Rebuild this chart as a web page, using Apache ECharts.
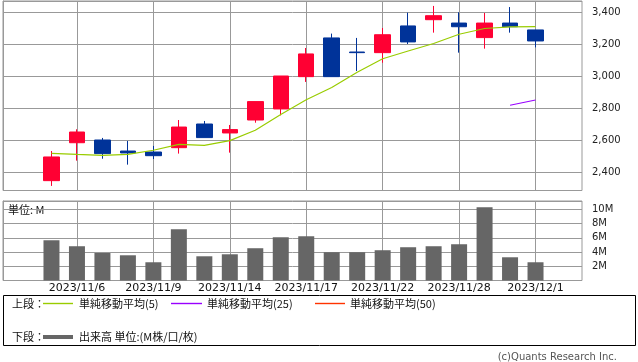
<!DOCTYPE html>
<html>
<head>
<meta charset="utf-8">
<script src="https://cdn.jsdelivr.net/npm/echarts@6/dist/echarts.min.js"></script>
<style>html,body{margin:0;padding:0;background:#fff;}#c{width:638px;height:362px;}</style>
</head>
<body>
<div id="c"></div>
<script>
const dates = ['2023/11/2','2023/11/6','2023/11/7','2023/11/8','2023/11/9','2023/11/10','2023/11/13','2023/11/14','2023/11/15','2023/11/16','2023/11/17','2023/11/20','2023/11/21','2023/11/22','2023/11/24','2023/11/27','2023/11/28','2023/11/29','2023/11/30','2023/12/1'];
const openP  = [2348,2585,2602,2533,2527,2554,2702,2646,2727,2796,2998,3240,3152,3148,3315,3354,3333,3242,3333,3290];
const closeP = [2496,2652,2517,2521,2504,2683,2617,2667,2842,3002,3140,2998,3148,3260,3215,3379,3310,3333,3310,3221];
const lowP   = [2315,2473,2485,2448,2483,2517,2617,2523,2710,2756,2965,2998,3033,3085,3202,3273,3148,3173,3273,3181];
const highP  = [2533,2669,2615,2596,2565,2727,2721,2696,2842,3002,3177,3267,3240,3302,3398,3440,3400,3396,3433,3290];
const ma5    = [2519,2512,2506,2512,2538,2575,2568,2598,2663,2762,2854,2930,3026,3110,3158,3205,3263,3299,3309,3311];
const ma25   = [null,null,null,null,null,null,null,null,null,null,null,null,null,null,null,null,null,null,2819,2852];
const ma50   = [null,null,null,null,null,null,null,null,null,null,null,null,null,null,null,null,null,null,null,null];
const volume = [5.65,4.81,3.87,3.54,2.56,7.19,3.40,3.68,4.53,6.07,6.21,3.97,3.97,4.25,4.67,4.81,5.09,10.28,3.26,2.56];
const tickLabels = ['2023/11/6','2023/11/9','2023/11/14','2023/11/17','2023/11/22','2023/11/28','2023/12/1'];

const RED = '#ff0033', BLUE = '#003399', C_MA5 = '#99cc00', C_MA25 = '#9900ff', C_MA50 = '#ff3300';
const GRID = '#999999';
const cats = [''].concat(dates, ['']);
const pad = a => [null].concat(a, [null]);
const candle = [['-','-','-','-']].concat(dates.map((d,i)=>[openP[i],closeP[i],lowP[i],highP[i]]), [['-','-','-','-']]);
const showTick = (idx, val) => tickLabels.indexOf(val) >= 0;

const chart = echarts.init(document.getElementById('c'), null, {renderer:'canvas'});
const numFont = 'DejaVu Sans';
const jpFont = '"Noto Sans CJK JP"';

const frameY = (min, max, fmt) => ({
  type:'value', position:'right', min:min, max:max, splitNumber:5,
  axisLine:{show:true, lineStyle:{color:GRID}},
  axisTick:{show:true, length:4, lineStyle:{color:GRID}},
  splitLine:{show:true, lineStyle:{color:GRID, width:1}},
  axisLabel:{show:true, margin:10, showMinLabel:false, showMaxLabel:false, color:'#222', fontFamily:numFont, fontSize:10, formatter:fmt}
});
const hiddenY = (min,max) => ({type:'value', min:min, max:max, show:false, splitLine:{show:false}});
const txt = (x, y, s) => ({type:'text', x:x, y:y, z:10, style:{text:s, font:'11px ' + jpFont, fill:'#111', textVerticalAlign:'middle'}});
const swatch = (x1, x2, y, w, c) => ({type:'polyline', z:10, shape:{points:[[x1, y], [x2, y]]}, style:{stroke:c, lineWidth:w, fill:null}});

chart.setOption({
  animation:false,
  backgroundColor:'#fff',
  grid:[
    {left:3, top:1, width:579, height:189.5, show:true, borderColor:GRID, borderWidth:1, backgroundColor:'transparent'},
    {left:26, top:1, width:535, height:189.5},
    {left:3, top:201, width:579, height:79.5, show:true, borderColor:GRID, borderWidth:1, backgroundColor:'transparent'},
    {left:26, top:201, width:535, height:79.5}
  ],
  xAxis:[
    {type:'value', gridIndex:0, min:0, max:1, show:false},
    {type:'category', gridIndex:1, data:cats, boundaryGap:false,
      axisLine:{show:false}, axisTick:{show:false}, axisLabel:{show:false},
      splitLine:{show:true, interval:showTick, lineStyle:{color:GRID, width:1}}},
    {type:'value', gridIndex:2, min:0, max:1, show:false},
    {type:'category', gridIndex:3, data:cats, boundaryGap:false,
      axisLine:{show:false}, axisTick:{show:false},
      axisLabel:{show:true, interval:showTick, margin:2, color:'#111', fontFamily:numFont, fontSize:11},
      splitLine:{show:true, interval:showTick, lineStyle:{color:GRID, width:1}}}
  ],
  yAxis:[
    Object.assign(frameY(2286.4, 3470.8, v => (v % 200 === 0) ? v.toLocaleString('en-US') : ''), {gridIndex:0}),
    Object.assign(hiddenY(2286.4, 3470.8), {gridIndex:1}),
    Object.assign(frameY(0, 11.16, v => (v > 0 && Math.abs(v - Math.round(v)) < 1e-6 && Math.round(v) % 2 === 0) ? Math.round(v) + 'M' : ''), {gridIndex:2}),
    Object.assign(hiddenY(0, 11.16), {gridIndex:3})
  ],
  series:[
    {type:'candlestick', xAxisIndex:1, yAxisIndex:1, data:candle, barWidth:16,
      itemStyle:{color:RED, color0:BLUE, borderColor:RED, borderColor0:BLUE, borderWidth:1}},
    {type:'line', xAxisIndex:1, yAxisIndex:1, data:pad(ma5), symbol:'none', lineStyle:{color:C_MA5, width:1.2}, z:5},
    {type:'line', xAxisIndex:1, yAxisIndex:1, data:pad(ma25), symbol:'none', lineStyle:{color:C_MA25, width:1.2}, z:5},
    {type:'line', xAxisIndex:1, yAxisIndex:1, data:pad(ma50), symbol:'none', lineStyle:{color:C_MA50, width:1.2}, z:5},
    {type:'bar', xAxisIndex:3, yAxisIndex:3, data:pad(volume), barWidth:16, itemStyle:{color:'#666666'}}
  ],
  graphic:{elements:[
    {type:'text', left:8, top:204, style:{text:'単位: M', font:'11px ' + jpFont, fill:'#111'}},
    {type:'rect', z:1, shape:{x:3.5, y:295.5, width:632, height:50}, style:{fill:'#fff', stroke:'#000', lineWidth:1}},
    txt(12, 303.5, '上段：'),
    swatch(43, 73, 303.5, 1.4, C_MA5),
    txt(79, 303.5, '単純移動平均(5)'),
    swatch(171, 202, 303.5, 1.4, C_MA25),
    txt(207, 303.5, '単純移動平均(25)'),
    swatch(315, 345, 303.5, 1.4, C_MA50),
    txt(350, 303.5, '単純移動平均(50)'),
    txt(12, 336.5, '下段：'),
    swatch(43, 73, 337, 4, '#666666'),
    txt(79, 336.5, '出来高 単位:(M株/口/枚)'),
    {type:'text', x:617, y:357, style:{text:'(c)Quants Research Inc.', font:'10px ' + numFont, fill:'#555', textAlign:'right', textVerticalAlign:'middle'}}
  ]}
});
</script>
</body>
</html>
